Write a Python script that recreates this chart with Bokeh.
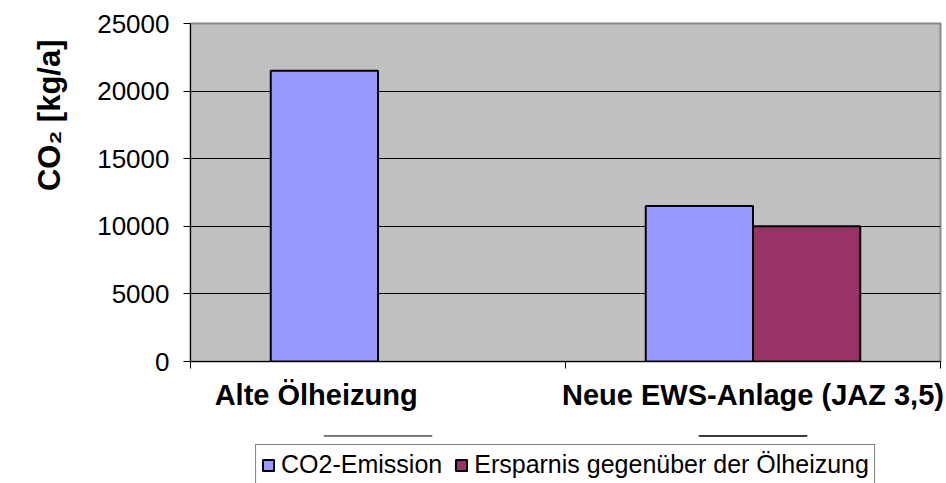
from bokeh.plotting import figure
from bokeh.layouts import column
from bokeh.models import (ColumnDataSource, Range1d, FixedTicker, Legend, LegendItem, Title)
from bokeh.transform import dodge
from bokeh.embed import file_html
from bokeh.resources import INLINE

# ---- data ----
categories = ["Alte Ölheizung", "Neue EWS-Anlage (JAZ 3,5)"]
co2_emission = [21500, 11500]
ersparnis = [float("nan"), 10000]
series_names = ["CO2-Emission", "Ersparnis gegenüber der Ölheizung"]
series_colors = ["#9999FF", "#993366"]
y_ticks = [0, 5000, 10000, 15000, 20000, 25000]
y_label = "CO₂ [kg/a]"

FONT = "Liberation Sans"
centers = [i + 0.5 for i in range(len(categories))]
src = ColumnDataSource(dict(x=centers, co2=co2_emission, ers=ersparnis))

p = figure(width=946, height=435, output_backend="svg", toolbar_location=None,
           x_range=Range1d(0, len(categories)), y_range=Range1d(0, 25000),
           min_border_left=190, min_border_right=6, min_border_top=23,
           min_border_bottom=74)

bw = 0.286
r1 = p.vbar(x=dodge("x", -bw / 2, range=p.x_range), top="co2", width=bw, source=src,
            fill_color=series_colors[0], line_color="black", line_width=2)
r2 = p.vbar(x=dodge("x", bw / 2, range=p.x_range), top="ers", width=bw, source=src,
            fill_color=series_colors[1], line_color="black", line_width=2)

p.background_fill_color = "#C0C0C0"
p.border_fill_color = "white"
p.outline_line_color = "#8a8a8a"
p.outline_line_width = 2

# grid
p.xgrid.grid_line_color = None
p.ygrid.grid_line_color = "black"
p.ygrid.grid_line_width = 1

# y axis
yax = p.yaxis[0]
yax.ticker = FixedTicker(ticks=y_ticks)
yax.major_label_text_font = FONT
yax.major_label_text_font_size = "26px"
yax.major_label_text_color = "black"
yax.major_tick_out = 7
yax.major_tick_in = 0
yax.minor_tick_out = 0
yax.minor_tick_in = 0
yax.major_label_standoff = 14
yax.axis_line_color = "black"
yax.axis_line_width = 1

# y label as a left title aligned to the top
yt = Title(text=y_label, align="right", text_font=FONT, text_font_size="31px",
           text_font_style="bold", text_color="black", standoff=56, offset=16)
p.add_layout(yt, "left")

# x axis: labels near category centres, ticks at category boundaries
label_shift = [-0.165, 0.0]
label_pos = [c + s for c, s in zip(centers, label_shift)]
xax = p.xaxis[0]
xax.ticker = FixedTicker(ticks=label_pos, minor_ticks=list(range(len(categories) + 1)))
xax.major_label_overrides = {pos: cat for pos, cat in zip(label_pos, categories)}
xax.major_tick_out = 0
xax.major_tick_in = 0
xax.minor_tick_out = 7
xax.minor_tick_in = 0
xax.minor_tick_line_color = "black"
xax.major_label_text_font = FONT
xax.major_label_text_font_size = "29px"
xax.major_label_text_font_style = "bold"
xax.major_label_text_color = "black"
xax.major_label_standoff = 10
xax.axis_line_color = "black"

# ---- legend strip below the chart ----
# The strip's y range lies below zero, so its bars stay out of view and only
# their legend swatches appear.
lg = figure(width=946, height=48, output_backend="svg", toolbar_location=None,
            x_axis_location=None, y_axis_location=None,
            x_range=Range1d(0, len(categories)), y_range=Range1d(-2, -1),
            min_border_left=190, min_border_right=6, min_border_top=0,
            min_border_bottom=0)
lg.outline_line_color = None
lg.grid.visible = False
lg.background_fill_color = "white"
lg.border_fill_color = "white"
g1 = lg.vbar(x="x", top="co2", width=bw, source=src,
             fill_color=series_colors[0], line_color="black", line_width=2)
g2 = lg.vbar(x="x", top="ers", width=bw, source=src,
             fill_color=series_colors[1], line_color="black", line_width=2)
legend = Legend(items=[LegendItem(label=series_names[0], renderers=[g1]),
                       LegendItem(label=series_names[1], renderers=[g2])],
                orientation="horizontal", location="top_center",
                label_text_font=FONT, label_text_font_size="25px", label_text_color="black",
                glyph_width=14, glyph_height=14, spacing=12, padding=5, margin=9,
                label_standoff=6, border_line_color="black", border_line_width=1,
                background_fill_color="white", background_fill_alpha=1)
lg.add_layout(legend, "center")

layout = column(p, lg, spacing=0)
open("out.html", "w").write(file_html(layout, INLINE))
